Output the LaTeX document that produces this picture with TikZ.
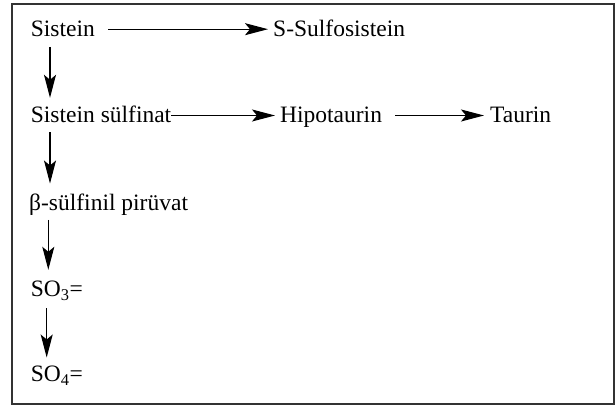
\documentclass[tikz,border=0pt]{standalone}
\usepackage{fontspec}
\setmainfont{Liberation Serif}
\usetikzlibrary{arrows.meta}
\begin{document}
\begin{tikzpicture}[
    x=1pt, y=1pt,
    term/.style={anchor=base west, inner sep=0pt, text height=15pt, text depth=0pt,
        font=\fontsize{23.5}{28}\selectfont},
    flow/.style={-{Stealth[length=23pt, width=12pt, inset=5pt]}, line width=1.1pt}
]
    \useasboundingbox (0,0) rectangle (615,406);
    \draw[black!80, line width=1.3pt] (12,2) rectangle (614,402);

    \node[term] (sis) at (30.7,369.3) {Sistein};
    \node[term] (ssulf) at (273,369.3) {S-Sulfosistein};
    \node[term] (sulf) at (30.7,283) {Sistein sülfinat};
    \node[term] (hipo) at (280,283) {Hipotaurin};
    \node[term] (taur) at (490,283) {Taurin};
    \node[term] (beta) at (29,195.3) {β-sülfinil pirüvat};
    \node[term] (so3) at (30.7,109) {SO\textsubscript{3}=};
    \node[term] (so4) at (30.7,24.3) {SO\textsubscript{4}=};

    % sideways steps
    \draw[flow, shorten <=13pt, shorten >=5pt] (sis.east) -- (ssulf.west);
    \draw[flow, shorten >=5pt] (sulf.east) -- (hipo.west);
    \draw[flow, shorten <=13pt, shorten >=6pt] (hipo.east) -- (taur.west);

    % downward steps
    \draw[flow] ([xshift=19.3pt, yshift=-10pt]sis.south west) -- ([xshift=19.3pt, yshift=10pt]sulf.north west);
    \draw[flow] ([xshift=19.3pt, yshift=-9pt]sulf.south west) -- ([xshift=21pt, yshift=12pt]beta.north west);
    \draw[flow] ([xshift=19.3pt, yshift=-9pt]beta.south west) -- ([xshift=17.6pt, yshift=12pt]so3.north west);
    \draw[flow] ([xshift=16pt, yshift=-11pt]so3.south west) -- ([xshift=16pt, yshift=9pt]so4.north west);
\end{tikzpicture}
\end{document}
